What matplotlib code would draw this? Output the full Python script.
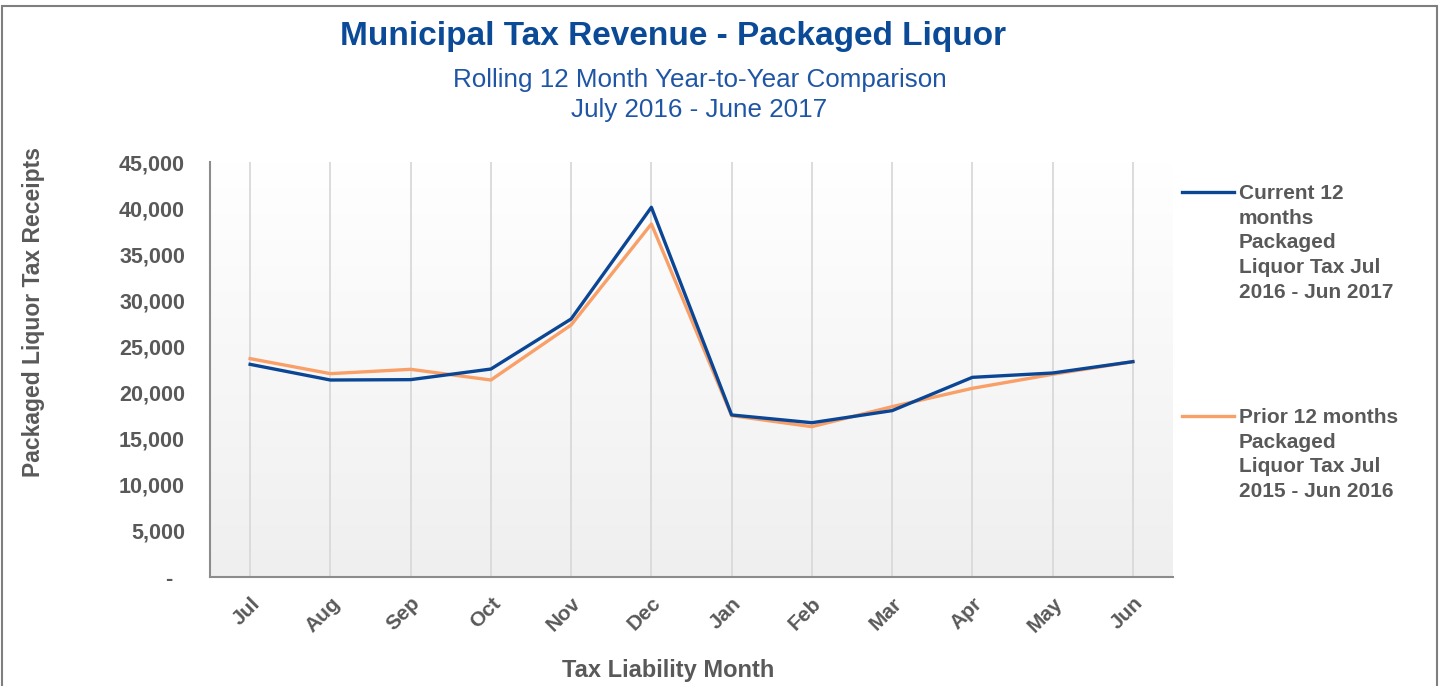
import matplotlib
matplotlib.use("Agg")
import matplotlib.pyplot as plt
import numpy as np
from matplotlib.patches import Rectangle
from matplotlib.lines import Line2D

plt.rcParams['font.family'] = ['Liberation Sans', 'DejaVu Sans']

months = ['Jul', 'Aug', 'Sep', 'Oct', 'Nov', 'Dec', 'Jan', 'Feb', 'Mar', 'Apr', 'May', 'Jun']
current = [23060, 21360, 21400, 22550, 27980, 40090, 17570, 16730, 18040, 21650, 22120, 23350]
prior = [23680, 22050, 22520, 21360, 27330, 38280, 17500, 16300, 18470, 20460, 21980, 23350]
current_label = 'Current 12\nmonths\nPackaged\nLiquor Tax Jul\n2016 - Jun 2017'
prior_label = 'Prior 12 months\nPackaged\nLiquor Tax Jul\n2015 - Jun 2016'
yticks = [0, 5000, 10000, 15000, 20000, 25000, 30000, 35000, 40000, 45000]

grey = '#595959'
blue = '#0b4695'
orange = '#f9a068'
W, H = 1439, 686

fig = plt.figure(figsize=(W / 100, H / 100), dpi=100)
fig.patches.append(Rectangle((0.0015, -0.01), 0.997, 1.001, transform=fig.transFigure,
                             fill=False, edgecolor='#7f7f7f', linewidth=1.5))

ax = fig.add_axes([210 / W, 1 - 577 / H, 963 / W, 415 / H])
x = np.arange(len(months))

# soft vertical gradient in the plot area
grad = np.linspace(0, 1, 256).reshape(-1, 1)
ax.imshow(grad, extent=[0, 1, 0, 1], transform=ax.transAxes, aspect='auto',
          cmap=matplotlib.colors.LinearSegmentedColormap.from_list('bg', ['#ffffff', '#efefef']),
          origin='upper', zorder=0)

for xi in x:
    ax.axvline(xi, color='#d9d9d9', linewidth=1.3, zorder=1)

ax.plot(x, current, color=blue, linewidth=2.4, zorder=3)
ax.plot(x, prior, color=orange, linewidth=2.4, zorder=2)

ax.set_xlim(-0.5, 11.5)
ax.set_ylim(0, 45000)
ax.set_xticks(x)
ax.set_xticklabels(months, rotation=45, ha='right', rotation_mode='anchor',
                   fontsize=15, fontweight='bold', color=grey)
ax.set_yticks(yticks)
ax.set_yticklabels(['-  ' if v == 0 else f'{v:,}' for v in yticks],
                   fontsize=15.5, fontweight='bold', color=grey)
ax.tick_params(axis='both', length=0)
ax.tick_params(axis='x', pad=12)
ax.tick_params(axis='y', pad=18)

for side in ['top', 'right']:
    ax.spines[side].set_visible(False)
for side in ['left', 'bottom']:
    ax.spines[side].set_color('#8c8c8c')
    ax.spines[side].set_linewidth(1.5)

ax.set_ylabel('Packaged Liquor Tax Receipts', fontsize=16.5, fontweight='bold', color=grey)
ax.yaxis.set_label_coords((34 - 210) / 963, (577 - 312) / 415)
ax.yaxis.label.set_va('center')
ax.set_xlabel('Tax Liability Month', fontsize=17, fontweight='bold', color=grey)
ax.xaxis.set_label_coords((668 - 210) / 963, (577 - 671) / 415)
ax.xaxis.label.set_va('center')

# legend, drawn beside the plot
for label, color, ly in [(current_label, blue, 192), (prior_label, orange, 416)]:
    fig.add_artist(Line2D([1182 / W, 1234 / W], [1 - ly / H, 1 - ly / H],
                          color=color, linewidth=2.4, transform=fig.transFigure))
    fig.text(1239 / W, 1 - (ly - 8) / H, label, ha='left', va='top', fontsize=15,
             fontweight='bold', color=grey, linespacing=1.38)

fig.text(673.5 / W, 0.947, 'Municipal Tax Revenue - Packaged Liquor', ha='center', va='center',
         fontsize=24, fontweight='bold', color='#0b4a97')
fig.text(699.5 / W, 0.884, 'Rolling 12 Month Year-to-Year Comparison', ha='center', va='center',
         fontsize=18.7, color='#1f55a5')
fig.text(699.5 / W, 0.839, 'July 2016 - June 2017', ha='center', va='center',
         fontsize=18.7, color='#1f55a5')

fig.savefig('out.png', dpi=100)
